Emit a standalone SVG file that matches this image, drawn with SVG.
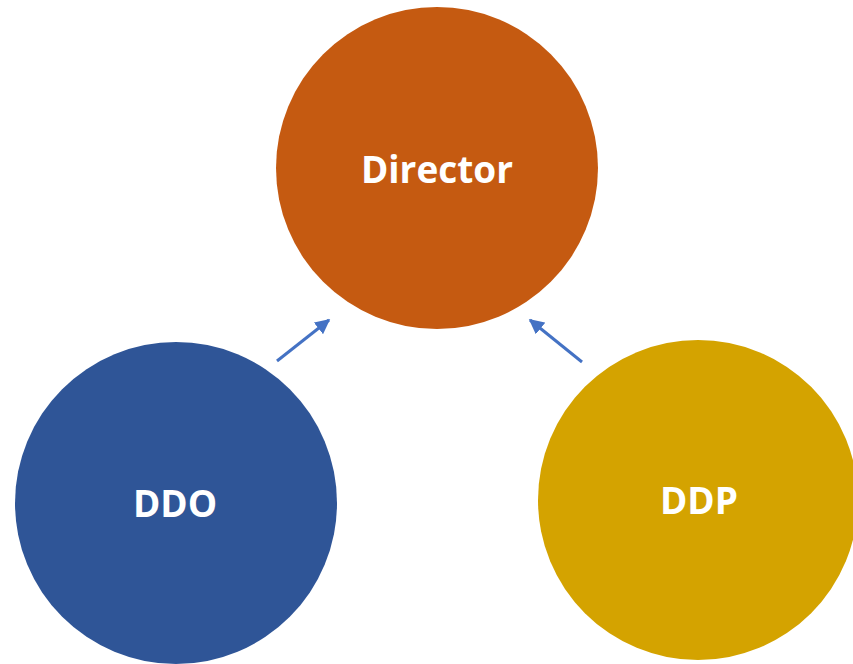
<svg xmlns="http://www.w3.org/2000/svg" width="853" height="664" viewBox="0 0 853 664">
<style>
.lbl{font-family:"Open Sans","Liberation Sans",sans-serif;font-weight:bold;fill:#ffffff;text-anchor:middle}
.conn{stroke:#4472C4;stroke-width:3;fill:none}
</style>
<defs>
<marker id="ah" viewBox="0 0 10 10" refX="9" refY="5" markerWidth="5" markerHeight="5" orient="auto" markerUnits="strokeWidth">
<path d="M0,0 L10,5 L0,10 z" fill="#4472C4"/>
</marker>
</defs>
<rect width="853" height="664" fill="#ffffff"/>
<g id="director">
<circle cx="437" cy="168" r="161" fill="#C55A11"/>
<text class="lbl" x="437" y="183" font-size="37">Director</text>
</g>
<g id="ddo">
<circle cx="176" cy="503" r="161" fill="#2F5597"/>
<text class="lbl" x="175" y="517" font-size="37">DDO</text>
</g>
<g id="ddp">
<circle cx="698" cy="500" r="160" fill="#D4A300"/>
<text class="lbl" x="699" y="514" font-size="37">DDP</text>
</g>
<g id="connectors">
<line class="conn" x1="277" y1="361" x2="329" y2="320" marker-end="url(#ah)"/>
<line class="conn" x1="582" y1="362" x2="530" y2="320" marker-end="url(#ah)"/>
</g>
</svg>
